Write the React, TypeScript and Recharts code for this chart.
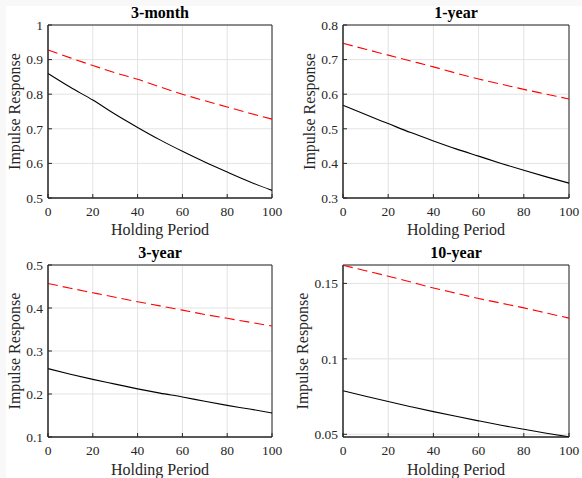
import { LineChart, Line, XAxis, YAxis, CartesianGrid, ReferenceArea } from 'recharts';

const period = [0, 10, 20, 30, 40, 50, 60, 70, 80, 90, 100];
const xTicks = [0, 20, 40, 60, 80, 100];

const m3Solid = [0.86, 0.82, 0.783, 0.742, 0.704, 0.668, 0.635, 0.604, 0.575, 0.547, 0.522];
const m3Dash = [0.928, 0.905, 0.883, 0.862, 0.843, 0.821, 0.8, 0.781, 0.763, 0.745, 0.728];
const y1Solid = [0.568, 0.541, 0.515, 0.489, 0.465, 0.442, 0.421, 0.4, 0.38, 0.361, 0.343];
const y1Dash = [0.747, 0.73, 0.713, 0.696, 0.679, 0.661, 0.644, 0.629, 0.614, 0.6, 0.586];
const y3Solid = [0.259, 0.246, 0.234, 0.223, 0.212, 0.202, 0.193, 0.183, 0.1735, 0.165, 0.156];
const y3Dash = [0.457, 0.446, 0.4355, 0.425, 0.4146, 0.405, 0.395, 0.385, 0.376, 0.367, 0.358];
const y10Solid = [0.0789, 0.0752, 0.0717, 0.0683, 0.065, 0.0619, 0.0589, 0.056, 0.0533, 0.0507, 0.0483];
const y10Dash = [0.162, 0.1584, 0.1548, 0.1509, 0.147, 0.1435, 0.14, 0.1369, 0.1338, 0.1304, 0.127];

const FONT = '"Liberation Serif", "Times New Roman", serif';
const INK = '#262626';

// plain serif tick text, dy decides the vertical anchoring
const makeTick = (dy: string) => (props: any) => {
  const { x, y, payload, textAnchor } = props;
  return (
    <text x={x} y={y} dy={dy} textAnchor={textAnchor} fill={INK} fontSize={13.5} fontFamily={FONT}>
      {String(payload.value)}
    </text>
  );
};
const xTick = makeTick('0.71em');
const yTick = makeTick('0.355em');

interface PanelProps {
  title: string;
  solid: number[];
  dash: number[];
  domain: [number, number];
  yTicks: number[];
  left: number;
  top: number;
  height: number;
  yWidth: number;
  right: number;
  xHeight: number;
  labelOffset: number;
  xLabelOffset: number;
}

const Panel = ({ title, solid, dash, domain, yTicks, left, top, height, yWidth, right, xHeight, labelOffset, xLabelOffset }: PanelProps) => {
  const data = period.map((p, i) => ({ p, solid: solid[i], dash: dash[i] }));
  return (
    <div style={{ position: 'absolute', left, top, fontFamily: FONT }}>
      <LineChart width={291} height={height} data={data} margin={{ top: 25, right, bottom: 0, left: 0 }}>
        <CartesianGrid stroke="#e3e3e3" />
        <XAxis
          dataKey="p"
          type="number"
          domain={[0, 100]}
          ticks={xTicks}
          height={xHeight}
          stroke={INK}
          tickSize={-4}
          tickMargin={12}
          tick={xTick}
          label={{ value: 'Holding Period', position: 'insideBottom', offset: xLabelOffset, fill: INK, fontSize: 16, fontFamily: FONT }}
        />
        <YAxis
          type="number"
          domain={domain}
          ticks={yTicks}
          allowDataOverflow
          width={yWidth}
          stroke={INK}
          tickSize={-4}
          tickMargin={9}
          tick={yTick}
          label={{ value: 'Impulse Response', angle: -90, position: 'insideLeft', offset: labelOffset, fill: INK, fontSize: 16, fontFamily: FONT, style: { textAnchor: 'middle' } }}
        />
        <ReferenceArea
          x1={0}
          x2={100}
          y1={domain[0]}
          y2={domain[1]}
          fill="none"
          stroke={INK}
          strokeWidth={1}
          label={{ value: title, position: 'top', offset: 7, fill: '#000', fontSize: 16, fontWeight: 'bold', fontFamily: FONT }}
        />
        <Line type="monotone" dataKey="dash" stroke="#ff0000" strokeWidth={1.1} strokeDasharray="10 5" dot={false} isAnimationActive={false} />
        <Line type="monotone" dataKey="solid" stroke="#000" strokeWidth={1.1} dot={false} isAnimationActive={false} />
      </LineChart>
    </div>
  );
};

const App = () => (
  <div style={{ position: 'fixed', left: 0, top: 0, width: 582, height: 478, background: '#f8f8f8', overflow: 'hidden' }}>
    <div style={{ position: 'absolute', left: 6, top: 6, width: 576, height: 472, background: '#fff' }} />
    <Panel title="3-month" solid={m3Solid} dash={m3Dash} domain={[0.5, 1]} yTicks={[0.5, 0.6, 0.7, 0.8, 0.9, 1]}
      left={0} top={0} height={240} yWidth={48} right={19} xHeight={42} labelOffset={14} xLabelOffset={5} />
    <Panel title="1-year" solid={y1Solid} dash={y1Dash} domain={[0.3, 0.8]} yTicks={[0.3, 0.4, 0.5, 0.6, 0.7, 0.8]}
      left={291} top={0} height={240} yWidth={52} right={13} xHeight={42} labelOffset={18} xLabelOffset={5} />
    <Panel title="3-year" solid={y3Solid} dash={y3Dash} domain={[0.1, 0.5]} yTicks={[0.1, 0.2, 0.3, 0.4, 0.5]}
      left={0} top={240} height={238} yWidth={48} right={19} xHeight={41} labelOffset={14} xLabelOffset={3} />
    <Panel title="10-year" solid={y10Solid} dash={y10Dash} domain={[0.0482, 0.1622]} yTicks={[0.05, 0.1, 0.15]}
      left={291} top={240} height={238} yWidth={52} right={13} xHeight={41} labelOffset={11} xLabelOffset={3} />
  </div>
);

export default App;
